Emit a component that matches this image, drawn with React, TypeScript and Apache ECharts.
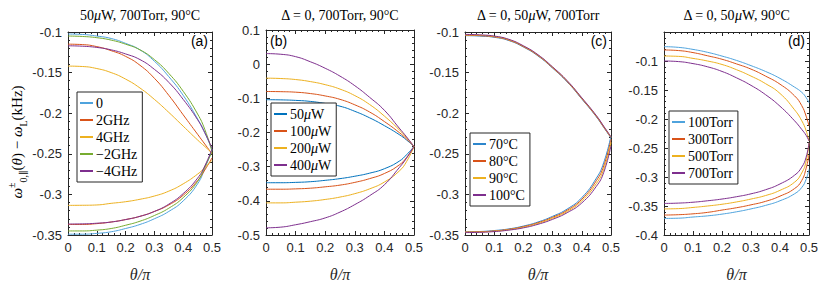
import React, { useEffect, useRef } from 'react';
import * as echarts from 'echarts';

// ---------- data ----------
const theta = [0, 0.05, 0.1, 0.15, 0.2, 0.25, 0.3, 0.35, 0.4, 0.45, 0.475, 0.5];
const thetaD = [0, 0.05, 0.1, 0.15, 0.2, 0.25, 0.3, 0.35, 0.4, 0.45, 0.475, 0.49, 0.5];

// panel (a): detuning
const aNames = ['0', '2GHz', '4GHz', '−2GHz', '−4GHz'];
const a0U = [-0.1025, -0.103, -0.105, -0.108, -0.114, -0.122, -0.136, -0.155, -0.178, -0.207, -0.224, -0.245];
const a0L = [-0.349, -0.349, -0.348, -0.346, -0.342, -0.337, -0.330, -0.321, -0.308, -0.287, -0.268, -0.245];
const aP2U = [-0.115, -0.1155, -0.118, -0.123, -0.130, -0.141, -0.157, -0.178, -0.202, -0.226, -0.238, -0.250];
const aP2L = [-0.337, -0.337, -0.336, -0.334, -0.331, -0.327, -0.321, -0.313, -0.301, -0.283, -0.270, -0.255];
const aP4U = [-0.142, -0.1425, -0.145, -0.150, -0.158, -0.169, -0.183, -0.199, -0.216, -0.233, -0.241, -0.249];
const aP4L = [-0.3135, -0.3134, -0.313, -0.311, -0.309, -0.306, -0.302, -0.296, -0.287, -0.275, -0.267, -0.258];
const aM2U = [-0.105, -0.1055, -0.107, -0.110, -0.115, -0.122, -0.134, -0.151, -0.173, -0.201, -0.220, -0.247];
const aM2L = [-0.345, -0.345, -0.344, -0.342, -0.338, -0.333, -0.326, -0.317, -0.304, -0.284, -0.266, -0.248];
const aM4U = [-0.117, -0.1175, -0.119, -0.122, -0.127, -0.134, -0.146, -0.162, -0.183, -0.208, -0.224, -0.243];
const aM4L = [-0.3365, -0.3363, -0.3355, -0.334, -0.331, -0.327, -0.321, -0.312, -0.299, -0.280, -0.265, -0.244];

// panel (b): power
const bNames = ['50μW', '100μW', '200μW', '400μW'];
const b50U = [-0.104, -0.1045, -0.106, -0.109, -0.115, -0.123, -0.138, -0.157, -0.180, -0.206, -0.222, -0.241];
const b50L = [-0.347, -0.347, -0.346, -0.344, -0.340, -0.335, -0.328, -0.319, -0.306, -0.284, -0.265, -0.241];
const b100U = [-0.080, -0.0805, -0.082, -0.086, -0.093, -0.103, -0.119, -0.140, -0.168, -0.200, -0.219, -0.241];
const b100L = [-0.366, -0.366, -0.365, -0.363, -0.359, -0.354, -0.346, -0.335, -0.320, -0.295, -0.273, -0.241];
const b200U = [-0.041, -0.042, -0.045, -0.051, -0.060, -0.073, -0.092, -0.118, -0.152, -0.192, -0.215, -0.241];
const b200L = [-0.406, -0.406, -0.404, -0.401, -0.396, -0.389, -0.379, -0.365, -0.345, -0.313, -0.285, -0.241];
const b400U = [0.031, 0.029, 0.022, 0.007, -0.012, -0.035, -0.063, -0.097, -0.135, -0.187, -0.213, -0.241];
const b400L = [-0.479, -0.477, -0.470, -0.461, -0.450, -0.433, -0.411, -0.385, -0.353, -0.303, -0.275, -0.241];

// panel (c): temperature
const cNames = ['70°C', '80°C', '90°C', '100°C'];
const c70U = [-0.1045, -0.105, -0.1065, -0.1105, -0.1185, -0.1295, -0.1445, -0.1615, -0.1825, -0.2045, -0.2175, -0.2305];
const c70L = [-0.346, -0.3457, -0.3445, -0.3425, -0.339, -0.334, -0.327, -0.318, -0.304, -0.280, -0.261, -0.228];
const c80U = [-0.104, -0.1045, -0.106, -0.110, -0.118, -0.129, -0.144, -0.161, -0.182, -0.204, -0.217, -0.230];
const c80L = [-0.3463, -0.346, -0.345, -0.343, -0.3397, -0.3349, -0.3282, -0.3195, -0.306, -0.283, -0.265, -0.232];
const c90U = [-0.1035, -0.104, -0.1055, -0.1095, -0.1175, -0.1285, -0.1435, -0.1605, -0.1815, -0.2035, -0.2165, -0.2295];
const c90L = [-0.3466, -0.3463, -0.3453, -0.3435, -0.3404, -0.3358, -0.3294, -0.321, -0.308, -0.2865, -0.269, -0.236];
const c100U = [-0.103, -0.1035, -0.105, -0.109, -0.117, -0.128, -0.143, -0.160, -0.181, -0.203, -0.216, -0.229];
const c100L = [-0.347, -0.3467, -0.3458, -0.344, -0.3412, -0.3368, -0.3307, -0.3225, -0.3105, -0.290, -0.273, -0.240];

// panel (d): pressure
const dNames = ['100Torr', '300Torr', '500Torr', '700Torr'];
const d100U = [-0.0753, -0.0765, -0.080, -0.085, -0.0915, -0.099, -0.108, -0.118, -0.130, -0.145, -0.154, -0.163, -0.172];
const d100L = [-0.3714, -0.371, -0.369, -0.367, -0.364, -0.360, -0.355, -0.349, -0.341, -0.329, -0.318, -0.304, -0.287];
const d300U = [-0.081, -0.082, -0.0855, -0.091, -0.097, -0.105, -0.114, -0.126, -0.140, -0.160, -0.177, -0.195, -0.212];
const d300L = [-0.3656, -0.365, -0.3635, -0.361, -0.357, -0.353, -0.348, -0.342, -0.333, -0.320, -0.306, -0.285, -0.262];
const d500U = [-0.0914, -0.092, -0.0955, -0.100, -0.106, -0.115, -0.126, -0.139, -0.156, -0.184, -0.203, -0.220, -0.238];
const d500L = [-0.355, -0.3545, -0.3525, -0.350, -0.347, -0.343, -0.338, -0.332, -0.323, -0.309, -0.293, -0.273, -0.241];
const d700U = [-0.100, -0.101, -0.1045, -0.110, -0.118, -0.129, -0.142, -0.158, -0.178, -0.203, -0.218, -0.228, -0.238];
const d700L = [-0.3456, -0.345, -0.3435, -0.341, -0.338, -0.334, -0.329, -0.322, -0.312, -0.297, -0.283, -0.266, -0.241];

const xTicks = { min: 0, max: 0.5, interval: 0.1 };
const yRanges = [
  { min: -0.35, max: -0.1, interval: 0.05 },
  { min: -0.5, max: 0.1, interval: 0.1 },
  { min: -0.35, max: -0.1, interval: 0.05 },
  { min: -0.4, max: -0.05, interval: 0.05 },
];

// ---------- styling ----------
const SANS = '"Liberation Sans", Arial, sans-serif';
const SERIF = '"Liberation Serif", "DejaVu Serif", serif';
const AX = '#262626';
const BLUE = '#0072BD';
const LBLUE = '#4FA3DD';
const ORANGE = '#D95319';
const YELLOW = '#EDB120';
const PURPLE = '#7E2F8E';
const GREEN = '#77AC30';

const grids = [
  { left: 68, top: 32, width: 144, height: 203 },
  { left: 266, top: 30, width: 148, height: 205 },
  { left: 465, top: 32, width: 146, height: 203 },
  { left: 664, top: 32, width: 145, height: 203 },
];

function mk(name: string, color: string, xs: number[], ys: number[], gi: number) {
  return {
    type: 'line',
    name,
    xAxisIndex: gi * 2,
    yAxisIndex: gi * 2,
    data: xs.map((x, i) => [x, ys[i]]),
    showSymbol: false,
    symbol: 'none',
    smooth: 0.5,
    lineStyle: { color, width: 1 },
    itemStyle: { color },
    emphasis: { disabled: true },
  };
}

const tickCommon = {
  splitLine: { show: false },
  axisLine: { show: true, onZero: false, lineStyle: { color: AX, width: 1 } },
  axisTick: { show: true, inside: true, length: 4, lineStyle: { color: AX, width: 1 } },
  minorTick: { show: true, splitNumber: 5, length: 2, lineStyle: { color: AX, width: 1 } },
};

const xAxis: any[] = [];
const yAxis: any[] = [];
grids.forEach((g, gi) => {
  xAxis.push({
    type: 'value', gridIndex: gi, position: 'bottom', ...xTicks, ...tickCommon,
    axisLabel: { show: true, fontFamily: SANS, fontSize: 13, color: AX, margin: 6 },
    name: 'θ/π', nameLocation: 'middle', nameGap: 31,
    nameTextStyle: { fontFamily: SERIF, fontStyle: 'italic', fontSize: 16, color: AX },
  });
  xAxis.push({
    type: 'value', gridIndex: gi, position: 'top', ...xTicks, ...tickCommon,
    axisLabel: { show: false },
  });
  yAxis.push({
    type: 'value', gridIndex: gi, position: 'left', ...yRanges[gi], ...tickCommon,
    axisLabel: { show: true, fontFamily: SANS, fontSize: 13, color: AX, margin: 6, showMaxLabel: gi !== 3 },
  });
  yAxis.push({
    type: 'value', gridIndex: gi, position: 'right', ...yRanges[gi], ...tickCommon,
    axisLabel: { show: false },
  });
});

const aColors = [LBLUE, ORANGE, YELLOW, GREEN, PURPLE];
const aUp = [a0U, aP2U, aP4U, aM2U, aM4U];
const aLo = [a0L, aP2L, aP4L, aM2L, aM4L];
const bColors = [BLUE, ORANGE, YELLOW, PURPLE];
const bUp = [b50U, b100U, b200U, b400U];
const bLo = [b50L, b100L, b200L, b400L];
const cColors = ['#2D86CC', ORANGE, YELLOW, PURPLE];
const cUp = [c70U, c80U, c90U, c100U];
const cLo = [c70L, c80L, c90L, c100L];
const dColors = [LBLUE, ORANGE, YELLOW, PURPLE];
const dUp = [d100U, d300U, d500U, d700U];
const dLo = [d100L, d300L, d500L, d700L];

const series: any[] = [];
aNames.forEach((n, i) => { series.push(mk(n, aColors[i], theta, aUp[i], 0)); series.push(mk(n, aColors[i], theta, aLo[i], 0)); });
bNames.forEach((n, i) => { series.push(mk(n, bColors[i], theta, bUp[i], 1)); series.push(mk(n, bColors[i], theta, bLo[i], 1)); });
cNames.forEach((n, i) => { series.push(mk(n, cColors[i], theta, cUp[i], 2)); series.push(mk(n, cColors[i], theta, cLo[i], 2)); });
dNames.forEach((n, i) => { series.push(mk(n, dColors[i], thetaD, dUp[i], 3)); series.push(mk(n, dColors[i], thetaD, dLo[i], 3)); });

const richLegend = {
  n: { fontFamily: SERIF, fontSize: 14, color: '#000' },
  i: { fontFamily: SERIF, fontStyle: 'italic', fontSize: 14, color: '#000' },
};

function legend(data: string[], left: number, top: number) {
  return {
    data,
    left, top,
    orient: 'vertical',
    selectedMode: false,
    icon: 'rect',
    itemWidth: 13,
    itemHeight: 2,
    itemGap: 3,
    padding: [4, 5, 4, 3],
    borderColor: AX,
    borderWidth: 1,
    backgroundColor: '#fff',
    formatter: (name: string) => {
      const k = name.indexOf('μ');
      if (k < 0) return '{n|' + name + '}';
      return '{n|' + name.slice(0, k) + '}{i|μ}{n|' + name.slice(k + 1) + '}';
    },
    textStyle: { fontFamily: SERIF, fontSize: 14, color: '#000', padding: [0, 0, 0, -2], rich: richLegend },
  };
}

const titleRich = {
  n: { fontFamily: SERIF, fontSize: 14, color: '#000' },
  i: { fontFamily: SERIF, fontSize: 14, fontStyle: 'italic', color: '#000' },
};
const titles = [
  '{n|50}{i|μ}{n|W, 700Torr, 90°C}',
  '{n|Δ = 0, 700Torr, 90°C}',
  '{n|Δ = 0, 50}{i|μ}{n|W, 700Torr}',
  '{n|Δ = 0, 50}{i|μ}{n|W, 90°C}',
];
const letters = ['(a)', '(b)', '(c)', '(d)'];

const graphic: any[] = [];
grids.forEach((g, gi) => {
  graphic.push({
    type: 'text', x: g.left + g.width / 2, y: 15,
    style: { text: titles[gi], rich: titleRich, font: '14px ' + SERIF, align: 'center', verticalAlign: 'middle', textAlign: 'center', textVerticalAlign: 'middle' },
  });
  const right = gi !== 1;
  graphic.push({
    type: 'text', x: right ? g.left + g.width - 4 : g.left + 4, y: 41,
    style: {
      text: letters[gi], font: '14px ' + SANS, fill: '#000',
      align: right ? 'right' : 'left', textAlign: right ? 'right' : 'left',
      verticalAlign: 'middle', textVerticalAlign: 'middle',
    },
  });
});
graphic.push({
  type: 'text', x: 17, y: 142, rotation: Math.PI / 2,
  style: {
    text: '{w|ω}{sup|±}{sub|0,∥}{n|(}{w|θ}{n|) − }{w|ω}{sub|L}{n|(kHz)}',
    font: '15px ' + SERIF,
    align: 'center', verticalAlign: 'middle', textAlign: 'center', textVerticalAlign: 'middle',
    rich: {
      n: { fontFamily: SERIF, fontSize: 15, color: '#000', lineHeight: 22, verticalAlign: 'middle' },
      w: { fontFamily: SERIF, fontSize: 15, fontStyle: 'italic', color: '#000', lineHeight: 22, verticalAlign: 'middle' },
      sup: { fontFamily: SERIF, fontSize: 10, color: '#000', lineHeight: 22, verticalAlign: 'top' },
      sub: { fontFamily: SERIF, fontSize: 10, color: '#000', lineHeight: 22, verticalAlign: 'bottom' },
    },
  },
});

const option = {
  animation: false,
  backgroundColor: '#fff',
  grid: grids,
  xAxis,
  yAxis,
  series,
  legend: [
    legend(aNames, 77, 92),
    legend(bNames, 271, 103),
    legend(cNames, 470, 133),
    legend(dNames, 669, 111),
  ],
  graphic,
};

export default function App() {
  const ref = useRef<HTMLDivElement>(null);
  useEffect(() => {
    document.body.style.margin = '0';
    const chart = echarts.init(ref.current!, null, { renderer: 'svg' });
    chart.setOption(option as any);
    return () => chart.dispose();
  }, []);
  return <div ref={ref} style={{ width: 830, height: 294 }} />;
}
